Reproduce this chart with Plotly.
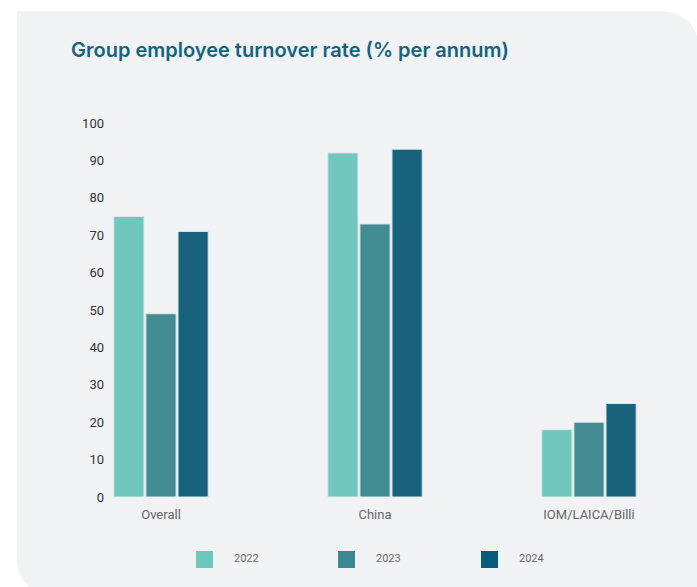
import plotly.graph_objects as go

# Turnover data (% per annum)
categories = ["Overall", "China", "IOM/LAICA/Billi"]
years = ["2022", "2023", "2024"]
rate_2022 = [75, 92, 18]
rate_2023 = [49, 73, 20]
rate_2024 = [71, 93, 25]
y_ticks = [0, 10, 20, 30, 40, 50, 60, 70, 80, 90, 100]

series = [rate_2022, rate_2023, rate_2024]
bar_colors = ["#6FC7BD", "#448C94", "#19627B"]
key_colors = ["#6DC8BC", "#3A8890", "#055B7C"]

W, H = 697, 587
ML, MR, MT, MB = 110, 7, 123, 90
PW, PH = W - ML - MR, H - MT - MB


def px_x(x):
    return (x - ML) / PW


def px_y(y):
    return (H - MB - y) / PH


fig = go.Figure()
for name, vals, col in zip(years, series, bar_colors):
    fig.add_trace(go.Bar(
        x=categories, y=vals, name=name,
        marker=dict(color=col, line=dict(color="#DCE8EA", width=1)),
        showlegend=False, hoverinfo="x+y+name",
    ))

# Rounded grey panel behind the chart
L, T, R, B = 17, 11, 699, 593
rt, rb = 42, 36
panel = (
    f"M {px_x(L)},{px_y(T)} "
    f"L {px_x(R - rt)},{px_y(T)} "
    f"Q {px_x(R)},{px_y(T)} {px_x(R)},{px_y(T + rt)} "
    f"L {px_x(R)},{px_y(B)} "
    f"L {px_x(L + rb)},{px_y(B)} "
    f"Q {px_x(L)},{px_y(B)} {px_x(L)},{px_y(B - rb)} Z"
)
shapes = [dict(type="path", path=panel, xref="paper", yref="paper",
               fillcolor="#F1F2F4", line=dict(width=0), layer="below")]

annotations = [dict(
    text="Group employee turnover rate (% per annum)",
    x=px_x(69), y=px_y(50), xref="paper", yref="paper",
    xanchor="left", yanchor="middle", showarrow=False,
    font=dict(family="Inter, Lato, sans-serif", size=20, weight=600, color="#14637F"),
)]

# Year keys along the bottom
key_x = [196, 338, 481]
for name, col, kx in zip(years, key_colors, key_x):
    shapes.append(dict(type="rect", xref="paper", yref="paper",
                       x0=px_x(kx), x1=px_x(kx + 17), y0=px_y(551), y1=px_y(568),
                       fillcolor=col, line=dict(width=0)))
    annotations.append(dict(text=name, x=px_x(kx + 36), y=px_y(558),
                            xref="paper", yref="paper", xanchor="left",
                            yanchor="middle", showarrow=False,
                            font=dict(family="Roboto, sans-serif", size=11, color="#6A6A6A")))

cat_center, cat_step = 161, 214
fig.update_layout(
    width=W, height=H,
    margin=dict(l=ML, r=MR, t=MT, b=MB),
    paper_bgcolor="white", plot_bgcolor="rgba(0,0,0,0)",
    barmode="group", bargap=0.55, bargroupgap=0.06,
    shapes=shapes, annotations=annotations,
    font=dict(family="Roboto, sans-serif"),
    xaxis=dict(
        range=[(ML - cat_center) / cat_step, (W - MR - cat_center) / cat_step],
        showgrid=False, zeroline=False, showline=False,
        tickfont=dict(size=13, color="#666666"),
        ticklabelstandoff=8,
    ),
    yaxis=dict(
        range=[0, 100], tickvals=y_ticks, showgrid=False, zeroline=False,
        showline=False, tickfont=dict(size=13, color="#333333"),
        ticklabelstandoff=5,
    ),
)

fig.write_html("out.html")
